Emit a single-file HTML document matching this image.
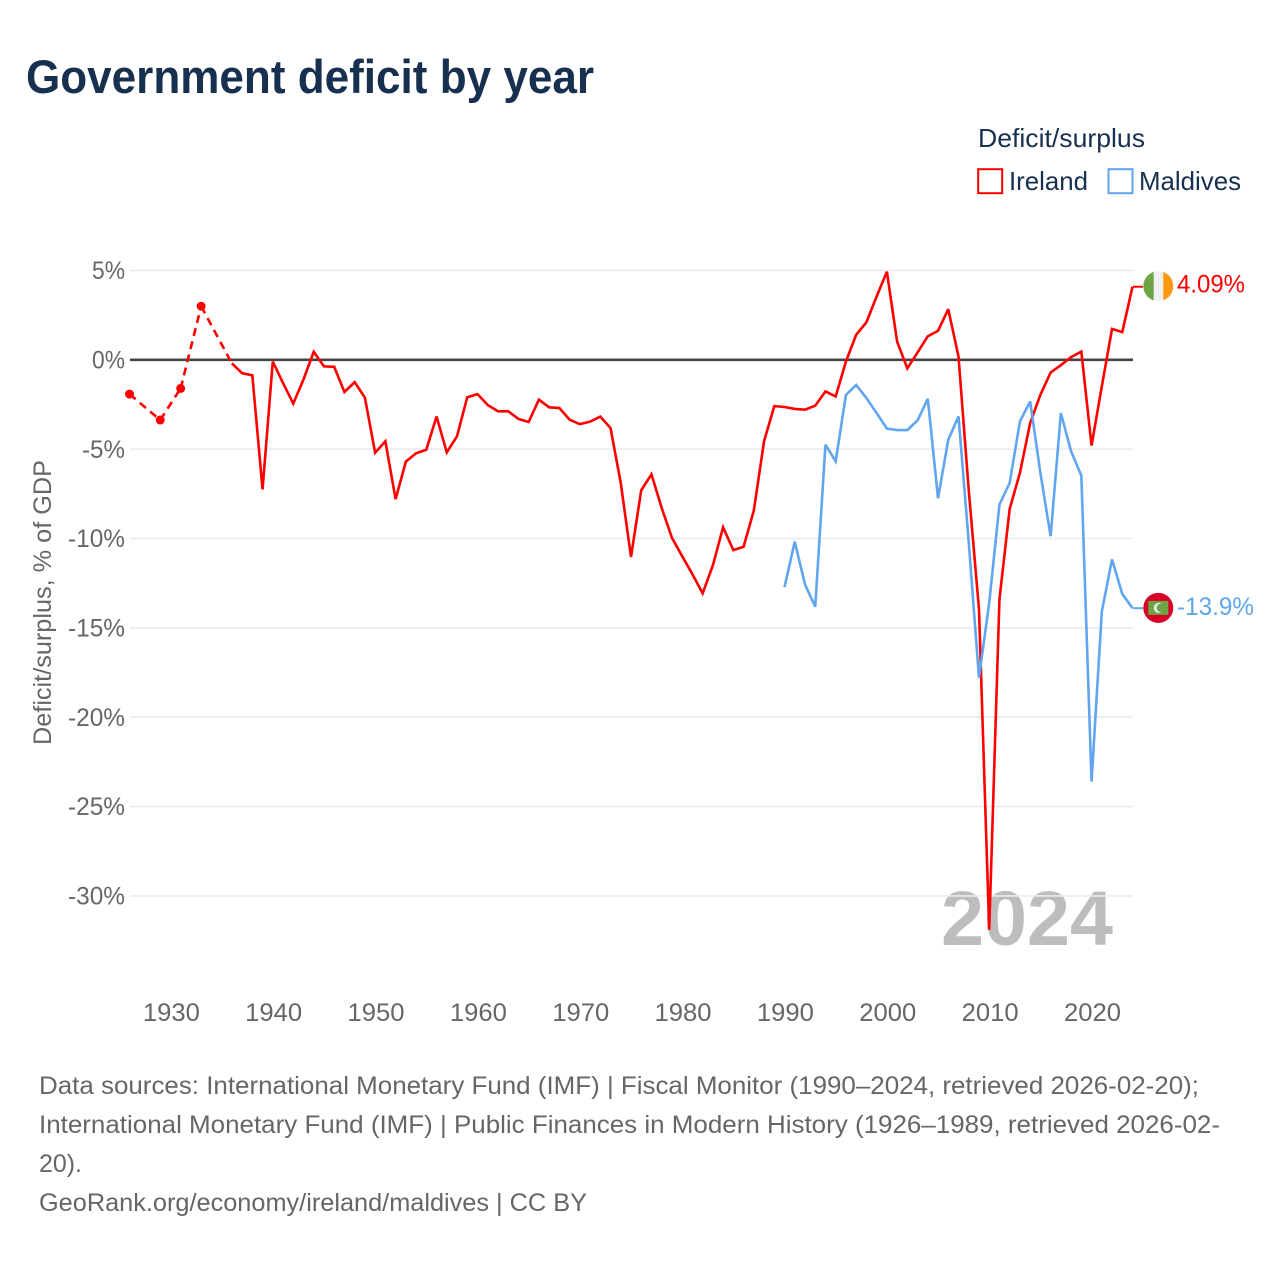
<!DOCTYPE html>
<html lang="en">
<head>
<meta charset="utf-8">
<title>Government deficit by year</title>
<style>
  html, body { margin: 0; padding: 0; background: #fff; }
  svg { display: block; font-family: "Liberation Sans", sans-serif; }
</style>
</head>
<body>
<svg id="chart" xmlns="http://www.w3.org/2000/svg" width="1280" height="1280" viewBox="0 0 1280 1280">
  <rect x="0" y="0" width="1280" height="1280" fill="#ffffff"/>
  <text x="26" y="93" font-size="47" font-weight="700" fill="#17304f" textLength="568" lengthAdjust="spacingAndGlyphs">Government deficit by year</text>

  <g>
    <text x="978" y="147" font-size="25.6" fill="#17304f" textLength="167" lengthAdjust="spacingAndGlyphs">Deficit/surplus</text>
    <rect x="978.2" y="169.2" width="24" height="24" fill="none" stroke="#ff0000" stroke-width="2"/>
    <text x="1009" y="190" font-size="25.6" fill="#17304f" textLength="79" lengthAdjust="spacingAndGlyphs">Ireland</text>
    <rect x="1108.5" y="169.2" width="24" height="24" fill="none" stroke="#60a5ed" stroke-width="2"/>
    <text x="1139" y="190" font-size="25.6" fill="#17304f" textLength="102" lengthAdjust="spacingAndGlyphs">Maldives</text>
  </g>

  <text x="941" y="945" font-size="77" font-weight="700" fill="#bdbdbd" textLength="172" lengthAdjust="spacingAndGlyphs">2024</text>

  <g id="grid"></g>
  <g id="yticks"></g>
  <g id="xticks"></g>
  <text transform="translate(51,745) rotate(-90)" font-size="25" fill="#666666" textLength="285" lengthAdjust="spacingAndGlyphs">Deficit/surplus, % of GDP</text>

  <g id="series"></g>

  <g id="flag-ireland">
    <clipPath id="clip-ie"><circle cx="0" cy="0" r="15"/></clipPath>
    <g clip-path="url(#clip-ie)">
      <rect x="-15" y="-15" width="10.5" height="30" fill="#6da544"/>
      <rect x="-4.5" y="-15" width="9.5" height="30" fill="#f0f0f0"/>
      <rect x="5" y="-15" width="10" height="30" fill="#ff9811"/>
    </g>
  </g>
  <g id="flag-maldives">
    <circle cx="0" cy="0" r="15" fill="#d80027"/>
    <rect x="-10" y="-7" width="20" height="14" fill="#6da544"/>
    <circle cx="0.5" cy="0" r="5" fill="#f0f0f0"/>
    <circle cx="2.5" cy="0" r="4.2" fill="#6da544"/>
  </g>
  <text id="label-ireland" x="1177" font-size="25" fill="#ff0000" textLength="68" lengthAdjust="spacingAndGlyphs">4.09%</text>
  <text id="label-maldives" x="1177" font-size="25" fill="#60a5ed" textLength="77" lengthAdjust="spacingAndGlyphs">-13.9%</text>

  <g font-size="25" fill="#666666">
    <text x="39" y="1094" textLength="1160" lengthAdjust="spacingAndGlyphs">Data sources: International Monetary Fund (IMF) | Fiscal Monitor (1990–2024, retrieved 2026-02-20);</text>
    <text x="39" y="1133" textLength="1181" lengthAdjust="spacingAndGlyphs">International Monetary Fund (IMF) | Public Finances in Modern History (1926–1989, retrieved 2026-02-</text>
    <text x="39" y="1172" textLength="43" lengthAdjust="spacingAndGlyphs">20).</text>
    <text x="39" y="1211" textLength="548" lengthAdjust="spacingAndGlyphs">GeoRank.org/economy/ireland/maldives | CC BY</text>
  </g>
</svg>

<script>
var firstYear = 1926;
var maldivesFirstYear = 1990;
var irelandValues = [
  -1.92, null, null, -3.37, null, -1.6, null, 3.0, null, null,
  -0.2, -0.75, -0.87, -7.25, -0.1, -1.3, -2.45, -1.1, 0.45, -0.37,
  -0.39, -1.8, -1.25, -2.12, -5.2, -4.56, -7.8, -5.7, -5.23, -5.03,
  -3.17, -5.18, -4.28, -2.1, -1.92, -2.53, -2.88, -2.88, -3.31, -3.48,
  -2.23, -2.66, -2.7, -3.35, -3.6, -3.46, -3.18, -3.82, -6.9, -11.03,
  -7.3, -6.41, -8.29, -9.96, -10.99, -12.0, -13.07, -11.5, -9.37, -10.65,
  -10.46, -8.44, -4.56, -2.59, -2.64, -2.75, -2.79, -2.57, -1.77, -2.05,
  -0.1, 1.4, 2.1, 3.54, 4.93, 1.02, -0.48, 0.41, 1.32, 1.62,
  2.83, 0.18, -7.3, -13.95, -31.9, -13.4, -8.34, -6.33, -3.54, -1.96,
  -0.71, -0.3, 0.15, 0.46, -4.8, -1.49, 1.73, 1.55, 4.09
];
var maldivesValues = [
  -12.72, -10.18, -12.57, -13.82, -4.75, -5.68, -1.97, -1.41, -2.14, -2.98,
  -3.85, -3.93, -3.93, -3.39, -2.18, -7.75, -4.47, -3.17, -10.2, -17.79,
  -13.6, -8.1, -6.89, -3.45, -2.33, -6.33, -9.87, -2.98, -5.12, -6.48,
  -23.6, -14.1, -11.17, -13.1, -13.9
];
var yTickValues = [5, 0, -5, -10, -15, -20, -25, -30];
var yTickLabels = ["5%", "0%", "-5%", "-10%", "-15%", "-20%", "-25%", "-30%"];
var xTickValues = [1930, 1940, 1950, 1960, 1970, 1980, 1990, 2000, 2010, 2020];
var xTickLabels = ["1930", "1940", "1950", "1960", "1970", "1980", "1990", "2000", "2010", "2020"];

var NS = "http://www.w3.org/2000/svg";
var plotLeft = 130, plotRight = 1133;
function xScale(year) { return plotLeft + (year - 1926) * (plotRight - plotLeft) / 98 - 0.5; }
function yScale(v) { return 359.8 - 17.87 * v; }
function mk(tag, parent) {
  var el = document.createElementNS(NS, tag);
  parent.appendChild(el);
  return el;
}

var grid = document.getElementById("grid");
var yticks = document.getElementById("yticks");
var xticks = document.getElementById("xticks");
var series = document.getElementById("series");

yTickValues.forEach(function (v, i) {
  var ln = mk("line", grid);
  
  
  ln.setAttribute("x1", plotLeft);
  ln.setAttribute("x2", plotRight);
  ln.setAttribute("y1", yScale(v));
  ln.setAttribute("y2", yScale(v));
  ln.setAttribute("stroke", v === 0 ? "#444444" : "#ebebeb");
  ln.setAttribute("stroke-width", v === 0 ? 2.6 : 1.6);
  var t = mk("text", yticks);
  
  
  var w = yTickLabels[i].length === 2 ? 33 : (yTickLabels[i].length === 3 ? 43 : 57);
  t.setAttribute("x", 125 - w);
  t.setAttribute("y", yScale(v) + 8.6);
  t.setAttribute("font-size", 25);
  t.setAttribute("fill", "#666666");
  t.setAttribute("textLength", w);
  t.setAttribute("lengthAdjust", "spacingAndGlyphs");
  t.textContent = yTickLabels[i];
});

xTickValues.forEach(function (yr, i) {
  var t = mk("text", xticks);
  
  
  t.setAttribute("x", xScale(yr) - 27.6);
  t.setAttribute("y", 1021);
  t.setAttribute("font-size", 25);
  t.setAttribute("fill", "#666666");
  t.setAttribute("textLength", 57);
  t.setAttribute("lengthAdjust", "spacingAndGlyphs");
  t.textContent = xTickLabels[i];
});

function drawSeries(values, startYear, color, name) {
  var run = [];
  var runs = [];
  values.forEach(function (v, i) {
    if (v === null) { if (run.length) { runs.push(run); run = []; } return; }
    run.push([xScale(startYear + i), yScale(v)]);
  });
  if (run.length) runs.push(run);
  runs.forEach(function (r, k) {
    if (k > 0) {
      var a = runs[k - 1][runs[k - 1].length - 1], b = r[0];
      var gap = mk("line", series);
      
      
      gap.setAttribute("x1", a[0]);
      gap.setAttribute("y1", a[1]);
      gap.setAttribute("x2", b[0]);
      gap.setAttribute("y2", b[1]);
      gap.setAttribute("stroke", color);
      gap.setAttribute("stroke-width", 2.6);
      gap.setAttribute("stroke-dasharray", "8 5.5");
    }
    if (r.length === 1) {
      var dot = mk("circle", series);
      
      
      dot.setAttribute("cx", r[0][0]);
      dot.setAttribute("cy", r[0][1]);
      dot.setAttribute("r", 4.5);
      dot.setAttribute("fill", color);
    } else {
      var p = mk("path", series);
      
      
      p.setAttribute("d", "M" + r.map(function (q) { return q[0].toFixed(2) + " " + q[1].toFixed(2); }).join("L"));
      p.setAttribute("fill", "none");
      p.setAttribute("stroke", color);
      p.setAttribute("stroke-width", 2.6);
      p.setAttribute("stroke-linejoin", "miter");
      p.setAttribute("stroke-miterlimit", 3);
      p.setAttribute("data-series", name);
    }
  });
  var lastV = values[values.length - 1];
  var conn = mk("line", series);
  
  
  conn.setAttribute("x1", plotRight);
  conn.setAttribute("x2", 1143);
  conn.setAttribute("y1", yScale(lastV));
  conn.setAttribute("y2", yScale(lastV));
  conn.setAttribute("stroke", color);
  conn.setAttribute("stroke-width", 2);
  return yScale(lastV);
}

var yIe = drawSeries(irelandValues, firstYear, "#ff0000", "ireland");
var yMv = drawSeries(maldivesValues, maldivesFirstYear, "#60a5ed", "maldives");

document.getElementById("flag-ireland").setAttribute("transform", "translate(1158.3," + (yIe - 0.6) + ")");
document.getElementById("flag-maldives").setAttribute("transform", "translate(1158.3," + (yMv - 0.3) + ")");
document.getElementById("label-ireland").setAttribute("y", yIe + 6);
document.getElementById("label-maldives").setAttribute("y", yMv + 7);
</script>
</body>
</html>
